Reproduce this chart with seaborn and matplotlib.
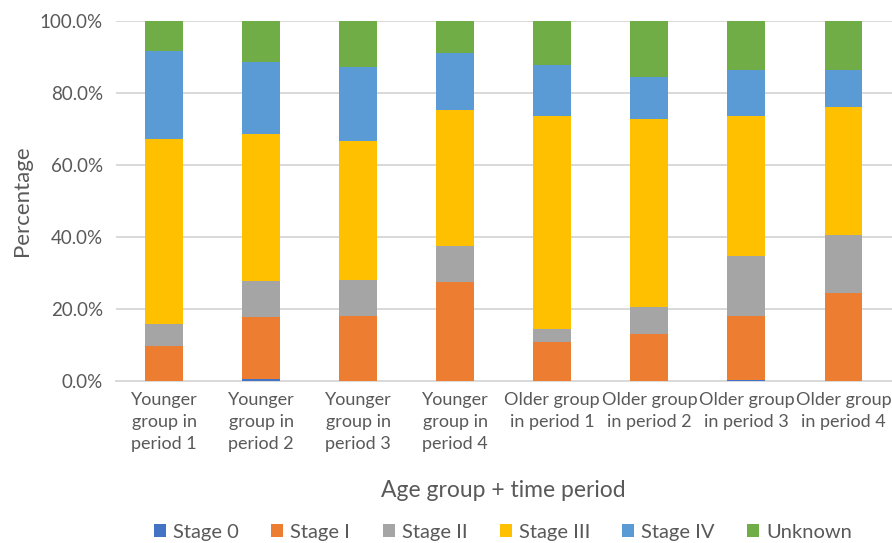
import matplotlib
matplotlib.use("Agg")
import matplotlib.pyplot as plt
from matplotlib.patches import Patch
from matplotlib.ticker import PercentFormatter
import numpy as np
import pandas as pd
import seaborn as sns

categories = [
    "Younger\ngroup in\nperiod 1", "Younger\ngroup in\nperiod 2",
    "Younger\ngroup in\nperiod 3", "Younger\ngroup in\nperiod 4",
    "Older group\nin period 1", "Older group\nin period 2",
    "Older group\nin period 3", "Older group\nin period 4",
]
stages = ["Stage 0", "Stage I", "Stage II", "Stage III", "Stage IV", "Unknown"]

stage_0 = [0.0, 0.5, 0.0, 0.0, 0.0, 0.0, 0.2, 0.0]
stage_1 = [9.8, 17.4, 18.0, 27.5, 11.0, 13.0, 18.0, 24.6]
stage_2 = [6.1, 9.9, 10.2, 10.0, 3.4, 7.6, 16.7, 16.0]
stage_3 = [51.4, 40.9, 38.6, 37.7, 59.3, 52.1, 38.8, 35.6]
stage_4 = [24.3, 19.9, 20.5, 16.0, 14.1, 11.8, 12.6, 10.3]
unknown = [8.4, 11.4, 12.7, 8.8, 12.2, 15.5, 13.7, 13.5]

colors = ["#4472C4", "#ED7D31", "#A5A5A5", "#FFC000", "#5B9BD5", "#70AD47"]

series = [stage_0, stage_1, stage_2, stage_3, stage_4, unknown]
df = pd.DataFrame({s: v for s, v in zip(stages, series)}, index=categories)
cum = df.cumsum(axis=1) / 100.0

sns.set_theme(style="white")
plt.rcParams["font.family"] = ["Lato", "DejaVu Sans"]

fig = plt.figure(figsize=(8.92, 5.43), dpi=100)
ax = fig.add_axes([0.1295, 0.298, 0.8705, 0.663])

# Stacked bars: draw cumulative totals from the top segment down
for stage, color in reversed(list(zip(stages, colors))):
    long = pd.DataFrame({"cat": categories, "val": cum[stage].values})
    sns.barplot(data=long, x="cat", y="val", color=color, saturation=1,
                width=0.39, linewidth=0, ax=ax, zorder=3)

ax.set_ylim(0, 1.0)
ax.set_xlim(-0.5, len(categories) - 0.5)
ax.yaxis.set_major_formatter(PercentFormatter(1.0, decimals=1))
ax.set_yticks(np.arange(0, 1.01, 0.2))
ax.grid(axis="y", color="#d9d9d9", linewidth=1.4, zorder=0)
ax.set_axisbelow(True)
for side in ["top", "right", "left"]:
    ax.spines[side].set_visible(False)
ax.spines["bottom"].set_color("#d9d9d9")
ax.spines["bottom"].set_linewidth(1.4)
ax.tick_params(axis="y", length=0, labelsize=13.5, colors="#595959", pad=9)
ax.tick_params(axis="x", length=0, labelsize=13, colors="#595959", pad=8)
for lbl in ax.get_xticklabels():
    lbl.set_linespacing(1.45)

ax.set_xlabel("Age group + time period", fontsize=16.5, color="#595959", labelpad=20)
ax.set_ylabel("Percentage", fontsize=16, color="#595959", labelpad=6)

handles = [Patch(facecolor=c, edgecolor="none") for c in colors]
fig.legend(handles, stages, loc="center", bbox_to_anchor=(0.564, 0.02), ncol=6,
           frameon=False, fontsize=14.5, handlelength=0.6, handleheight=0.6,
           handletextpad=0.35, columnspacing=1.6, labelcolor="#595959")

fig.savefig("out.png", dpi=100)
